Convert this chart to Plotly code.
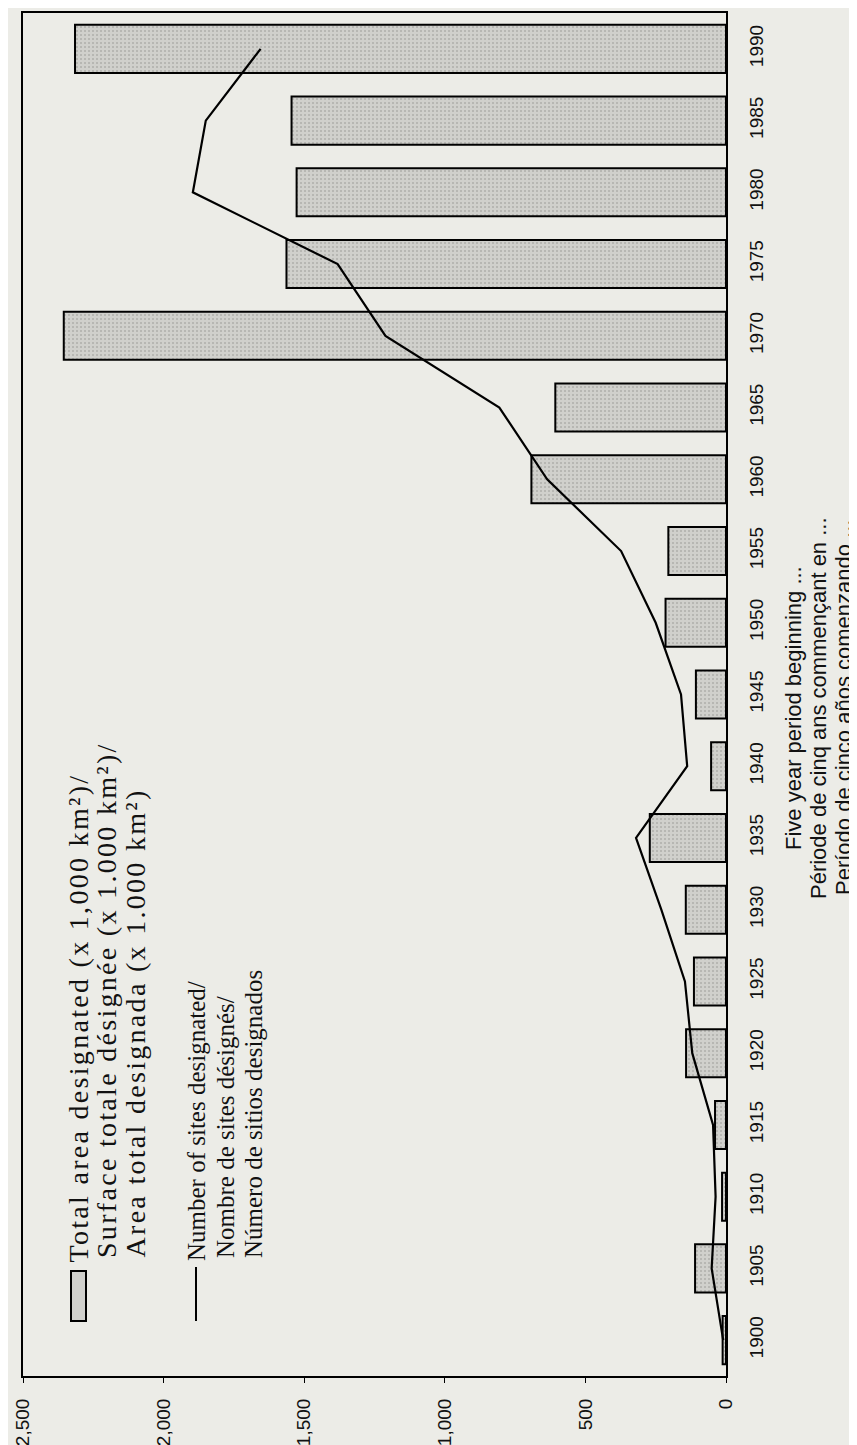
import plotly.graph_objects as go

# ---- data ----
years = [1900, 1905, 1910, 1915, 1920, 1925, 1930, 1935, 1940, 1945,
         1950, 1955, 1960, 1965, 1970, 1975, 1980, 1985, 1990]
area_designated = [12, 110, 14, 39, 142, 114, 143, 271, 53, 107,
                   215, 205, 692, 607, 2355, 1563, 1527, 1545, 2315]
sites_designated = [10, 51, 37, 46, 120, 146, 230, 320, 138, 160,
                    250, 373, 636, 806, 1211, 1381, 1896, 1850, 1655]
value_ticks = [0, 500, 1000, 1500, 2000, 2500]
value_tick_labels = ["0", "500", "1,000", "1,500", "2,000", "2,500"]
year_tick_labels = [str(y) for y in years]

legend_area = ["Total area designated (x 1,000 km²)/",
               "Surface totale désignée (x 1.000 km²)/",
               "Area total designada (x 1.000 km²)"]
legend_sites = ["Number of sites designated/",
                "Nombre de sites désignés/",
                "Número de sitios designados"]
axis_title = ["Five year period beginning ...",
              "Période de cinq ans commençant en ...",
              "Período de cinco años comenzando ..."]

# ---- layout geometry ----
W, H = 857, 1445
L, R, T, B = 15, 139, 5, 77
BG = "#ecece7"
BAR_FILL = "#d0d0cc"


def px_x(px):
    return (px - L) / (W - L - R)


def px_y(py):
    return (H - B - py) / (H - T - B)


def spaced(txt, ls):
    return f'<span style="letter-spacing:{ls}px">{txt}</span>'


fig = go.Figure()
fig.add_trace(go.Bar(
    x=area_designated, y=years, orientation="h", width=3.35,
    marker=dict(color=BAR_FILL, line=dict(color="black", width=2),
                pattern=dict(shape=".", fgcolor="#8e8e8a", bgcolor=BAR_FILL,
                             size=4, solidity=0.2)),
    showlegend=False,
))
fig.add_trace(go.Scatter(
    x=sites_designated, y=years, mode="lines",
    line=dict(color="black", width=2.2), showlegend=False,
))

fig.update_layout(
    width=W, height=H,
    margin=dict(l=L, r=R, t=T, b=B, pad=0, autoexpand=False),
    paper_bgcolor=BG, plot_bgcolor=BG,
    xaxis=dict(range=[2500, 0], tickvals=value_ticks, ticktext=value_tick_labels,
               tickangle=-90, showgrid=False, zeroline=False, automargin=False,
               showline=True, linecolor="black", linewidth=2, mirror=True,
               ticks="outside", ticklen=5, tickcolor="black",
               ticklabelstandoff=8,
               tickfont=dict(family="Liberation Sans", size=19, color="#111")),
    yaxis=dict(range=[1897.5, 1992.5], tickvals=years, ticktext=year_tick_labels,
               side="right", tickangle=-90, showgrid=False, zeroline=False,
               automargin=False,
               showline=True, linecolor="black", linewidth=2, mirror=True,
               ticks="", ticklabelstandoff=12,
               tickfont=dict(family="Liberation Sans", size=19, color="#111")),
)

annotations = []
# legend texts
for i, (txt, xp) in enumerate(zip(legend_area, [70, 98, 127])):
    annotations.append(dict(
        text=spaced(txt, 2.3), x=px_x(xp), y=px_y(1257 if i == 0 else 1252),
        xref="paper", yref="paper", xanchor="center", yanchor="bottom",
        textangle=-90, showarrow=False,
        font=dict(family="Liberation Serif", size=28, color="#111")))
for i, (txt, xp) in enumerate(zip(legend_sites, [188, 217, 245])):
    annotations.append(dict(
        text=txt, x=px_x(xp), y=px_y(1255 if i == 0 else 1252),
        xref="paper", yref="paper", xanchor="center", yanchor="bottom",
        textangle=-90, showarrow=False,
        font=dict(family="Liberation Serif", size=25, color="#111")))
# category axis title
for txt, xp in zip(axis_title, [785, 810, 835]):
    annotations.append(dict(
        text=txt, x=px_x(xp), y=px_y(700),
        xref="paper", yref="paper", xanchor="center", yanchor="middle",
        textangle=-90, showarrow=False,
        font=dict(family="Liberation Sans", size=22, color="#111")))
fig.update_layout(annotations=annotations)

# legend symbols
fig.add_shape(type="rect", xref="paper", yref="paper",
              x0=px_x(63), x1=px_x(78), y0=px_y(1313), y1=px_y(1263),
              fillcolor=BAR_FILL, line=dict(color="black", width=2))
fig.add_shape(type="line", xref="paper", yref="paper",
              x0=px_x(188), x1=px_x(188), y0=px_y(1313), y1=px_y(1259),
              line=dict(color="black", width=2))

fig.write_html("out.html")
